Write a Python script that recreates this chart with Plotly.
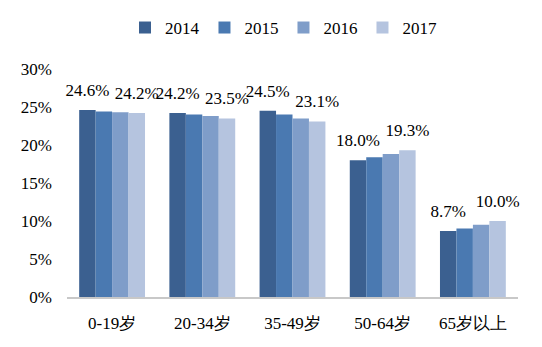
import plotly.graph_objects as go

categories = ["0-19岁", "20-34岁", "35-49岁", "50-64岁", "65岁以上"]
years = ["2014", "2015", "2016", "2017"]
v2014 = [24.6, 24.2, 24.5, 18.0, 8.7]
v2015 = [24.4, 24.0, 24.0, 18.4, 9.0]
v2016 = [24.3, 23.8, 23.5, 18.8, 9.5]
v2017 = [24.2, 23.5, 23.1, 19.3, 10.0]
series = [v2014, v2015, v2016, v2017]
colors = ["#3B6090", "#4A79B1", "#7F9DC9", "#B5C4DF"]
show_labels = [True, False, False, True]

font_family = "Times New Roman, Liberation Serif, DejaVu Serif, serif"

fig = go.Figure()
for name, vals, col in zip(years, series, colors):
    fig.add_trace(go.Bar(
        name=name, x=categories, y=vals, marker_color=col,
        marker_line_width=0, offsetgroup=name, alignmentgroup="a",
    ))
for name, vals, lab in zip(years, series, show_labels):
    fig.add_trace(go.Scatter(
        x=categories, y=vals, mode="markers+text" if lab else "markers",
        text=[f"{v:.1f}%" for v in vals] if lab else None,
        textposition="top center",
        textfont=dict(family=font_family, size=17, color="#000"),
        marker=dict(size=14, opacity=0), offsetgroup=name, alignmentgroup="a",
        orientation="v", showlegend=False, hoverinfo="skip", cliponaxis=False,
    ))

fig.update_layout(
    width=542, height=347,
    margin=dict(l=67, r=24, t=69, b=50, autoexpand=False),
    barmode="group", bargap=0.27, bargroupgap=0,
    scattermode="group", scattergap=0.27,
    plot_bgcolor="white", paper_bgcolor="white",
    font=dict(family=font_family, size=17, color="#000"),
    legend=dict(orientation="h", x=0.48, xanchor="center", y=1.18, yanchor="middle",
                font=dict(family=font_family, size=17), itemwidth=30, traceorder="normal"),
    showlegend=True,
)
fig.update_yaxes(range=[0, 30], dtick=5, ticksuffix="%", showgrid=False,
                 zeroline=False, showline=False, ticks="",
                 tickfont=dict(family=font_family, size=17), ticklabelstandoff=14)
fig.update_xaxes(showline=True, linecolor="#C8C8C8", linewidth=1.5, ticks="",
                 tickfont=dict(family=font_family, size=17), showgrid=False,
                 ticklabelstandoff=10)

fig.write_html("out.html")
